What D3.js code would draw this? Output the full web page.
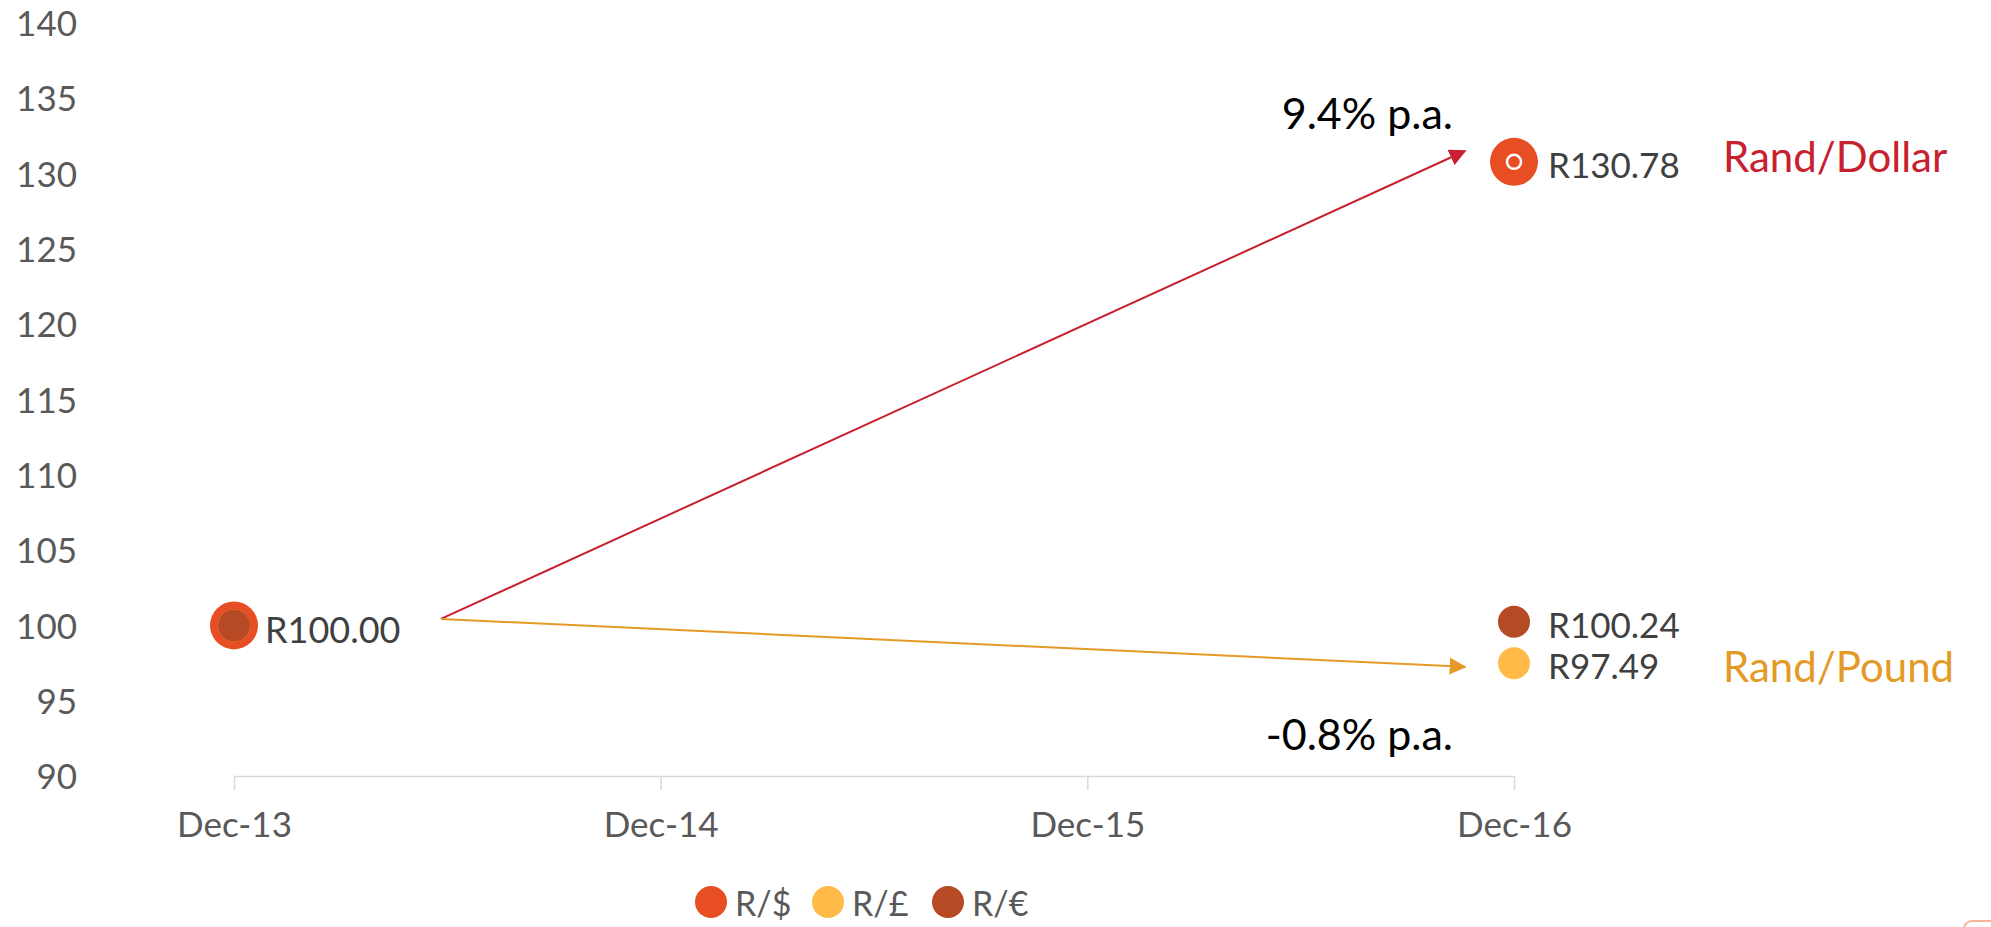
<!DOCTYPE html>
<html>
<head>
<meta charset="utf-8">
<script src="https://cdn.jsdelivr.net/npm/d3@7"></script>
<style>
  html, body { margin: 0; padding: 0; background: #fff; }
  svg { display: block; }
  text { font-family: Lato, "Open Sans", sans-serif; }
</style>
</head>
<body>
<svg id="chart" width="1991" height="927"></svg>
<script>
// ---- data ----
const categories = ["Dec-13", "Dec-14", "Dec-15", "Dec-16"];
const yTicks = [90, 95, 100, 105, 110, 115, 120, 125, 130, 135, 140];
const seriesNames = ["R/$", "R/£", "R/€"];
const seriesColors = ["#E84E24", "#FFBA47", "#B54A25"];
const usdValues = [100, null, null, 130.78];
const gbpValues = [100, null, null, 97.49];
const eurValues = [100, null, null, 100.24];
const labelsDec13 = ["R100.00"];
const labelsDec16 = ["R130.78", "R97.49", "R100.24"];
// annotation arrows: [category index position, value]
const arrowStart = [0.485, 100.43];
const usdArrowEnd = [2.885, 131.5];
const gbpArrowEnd = [2.885, 97.25];
const growthLabels = ["9.4% p.a.", "-0.8% p.a."];
const pairLabels = ["Rand/Dollar", "Rand/Pound"];

// ---- scales ----
const svg = d3.select("#chart");
const x = d3.scalePoint().domain(categories).range([234, 1514]);
const y = d3.scaleLinear().domain([90, 140]).range([776, 23]);
const xPos = p => x(categories[0]) + p * x.step();

// ---- axes ----
const xAxis = svg.append("g").attr("transform", `translate(0,${y(90)})`)
  .call(d3.axisBottom(x).tickSizeInner(14).tickSizeOuter(0).tickPadding(22));
xAxis.select(".domain").attr("stroke", "#d9d9d9").attr("stroke-width", 1.5);
xAxis.selectAll(".tick line").attr("stroke", "#d9d9d9").attr("stroke-width", 1.5);
xAxis.selectAll(".tick text").attr("fill", "#595959").attr("font-size", 35)
  .attr("font-family", "Lato, sans-serif");

const yAxis = svg.append("g").attr("transform", `translate(77,0)`)
  .call(d3.axisLeft(y).tickValues(yTicks).tickSize(0).tickPadding(0));
yAxis.select(".domain").remove();
yAxis.selectAll(".tick text").attr("fill", "#595959").attr("font-size", 35)
  .attr("font-family", "Lato, sans-serif").attr("dy", "0.36em");

// ---- arrows ----
const defs = svg.append("defs");
function marker(id, color) {
  defs.append("marker").attr("id", id).attr("viewBox", "0 0 10 10")
    .attr("refX", 9).attr("refY", 5)
    .attr("markerUnits", "userSpaceOnUse").attr("orient", "auto")
    .attr("markerWidth", 17).attr("markerHeight", 17)
    .append("path").attr("d", "M0,0 L10,5 L0,10 z").attr("fill", color);
}
marker("arrRed", "#C8202E");
marker("arrGold", "#E49A27");
svg.append("line")
  .attr("x1", xPos(arrowStart[0])).attr("y1", y(arrowStart[1]))
  .attr("x2", xPos(usdArrowEnd[0])).attr("y2", y(usdArrowEnd[1]))
  .attr("stroke", "#C8202E").attr("stroke-width", 2).attr("marker-end", "url(#arrRed)");
svg.append("line")
  .attr("x1", xPos(arrowStart[0])).attr("y1", y(arrowStart[1]))
  .attr("x2", xPos(gbpArrowEnd[0])).attr("y2", y(gbpArrowEnd[1]))
  .attr("stroke", "#E49A27").attr("stroke-width", 2).attr("marker-end", "url(#arrGold)");

// ---- markers ----
function pts(vals) {
  return vals.map((v, i) => ({ c: categories[i], v })).filter(d => d.v !== null);
}
const gMarks = svg.append("g");
gMarks.selectAll(".usd").data(pts(usdValues)).join("circle")
  .attr("cx", d => x(d.c)).attr("cy", d => y(d.v)).attr("r", 24).attr("fill", seriesColors[0]);
gMarks.selectAll(".usdring").data(pts(usdValues)).join("circle")
  .attr("cx", d => x(d.c)).attr("cy", d => y(d.v)).attr("r", 7)
  .attr("fill", "none").attr("stroke", "#fff").attr("stroke-width", 2.5);
gMarks.selectAll(".gbp").data(pts(gbpValues)).join("circle")
  .attr("cx", d => x(d.c)).attr("cy", d => y(d.v)).attr("r", 16).attr("fill", seriesColors[1]);
gMarks.selectAll(".eur").data(pts(eurValues)).join("circle")
  .attr("cx", d => x(d.c)).attr("cy", d => y(d.v)).attr("r", 16).attr("fill", seriesColors[2]);

// ---- data labels ----
svg.append("text").attr("x", x(categories[0]) + 31).attr("y", y(usdValues[0]))
  .attr("dy", "0.48em").attr("font-size", 36).attr("fill", "#404040").text(labelsDec13[0]);
const last = categories.length - 1;
[[usdValues[last], labelsDec16[0]], [gbpValues[last], labelsDec16[1]], [eurValues[last], labelsDec16[2]]]
  .forEach(([v, t]) => {
    svg.append("text").attr("x", x(categories[last]) + 34).attr("y", y(v))
      .attr("dy", "0.45em").attr("font-size", 35).attr("fill", "#404040").text(t);
  });

// ---- growth annotations ----
svg.append("text").attr("x", 1453).attr("y", 129).attr("text-anchor", "end")
  .attr("font-size", 43).attr("fill", "#000").text(growthLabels[0]);
svg.append("text").attr("x", 1453).attr("y", 750).attr("text-anchor", "end")
  .attr("font-size", 43).attr("fill", "#000").text(growthLabels[1]);

// ---- pair labels ----
svg.append("text").attr("x", 1723).attr("y", 172)
  .attr("font-size", 42).attr("fill", "#C8202E").text(pairLabels[0]);
svg.append("text").attr("x", 1723).attr("y", 682)
  .attr("font-size", 42).attr("fill", "#E49A27").text(pairLabels[1]);

// ---- legend ----
const legendX = [711, 828, 948];
const lg = svg.append("g");
seriesNames.forEach((n, i) => {
  lg.append("circle").attr("cx", legendX[i]).attr("cy", 902).attr("r", 16).attr("fill", seriesColors[i]);
  lg.append("text").attr("x", legendX[i] + 24).attr("y", 916)
    .attr("font-size", 34).attr("fill", "#595959").text(n);
});

// small decorative corner at bottom-right
svg.append("rect").attr("x", 1964).attr("y", 921).attr("width", 60).attr("height", 40)
  .attr("rx", 8).attr("fill", "none").attr("stroke", "#F4B59A").attr("stroke-width", 2);
</script>
</body>
</html>
